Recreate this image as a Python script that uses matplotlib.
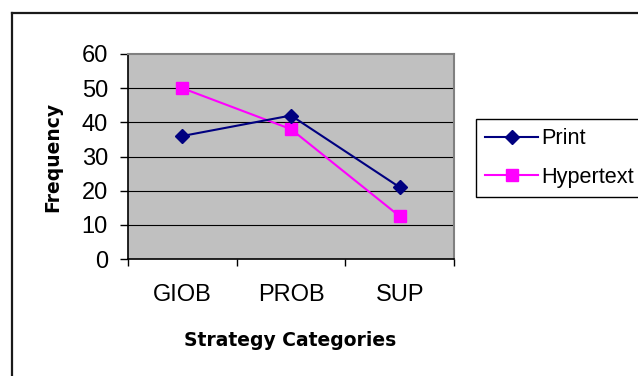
import matplotlib
matplotlib.use("Agg")
import matplotlib.pyplot as plt
from matplotlib.lines import Line2D
import numpy as np

# Data
categories = ["GIOB", "PROB", "SUP"]
print_freq = [36, 42, 21]
hypertext_freq = [50, 38, 12.5]
y_ticks = [0, 10, 20, 30, 40, 50, 60]

W, H = 638, 376
DPI = 100
plt.rcParams["font.family"] = ["Liberation Sans", "DejaVu Sans"]

fig = plt.figure(figsize=(W / DPI, H / DPI), dpi=DPI)
fig.patch.set_facecolor("white")


def fx(px):
    return px / W


def fy(py):
    return 1 - py / H


# Outer chart frame (left and top edges)
fig.add_artist(Line2D([fx(12), fx(12)], [fy(12.5), fy(376)], color="#1a1a1a", lw=1.6,
                      transform=fig.transFigure))
fig.add_artist(Line2D([fx(12), fx(638)], [fy(12.5), fy(12.5)], color="#1a1a1a", lw=1.6,
                      transform=fig.transFigure))

# Plot area
left, right, top, bottom = 128, 454, 54, 259
ax = fig.add_axes([fx(left), fy(bottom), fx(right - left), (bottom - top) / H])
ax.set_facecolor("#C0C0C0")

x = np.arange(len(categories))
ax.plot(x, print_freq, color="#000080", lw=1.5, marker="D", ms=6.8,
        markerfacecolor="#000080", markeredgecolor="#000080", label="Print", zorder=4)
ax.plot(x, hypertext_freq, color="#FF00FF", lw=1.5, marker="s", ms=8,
        markerfacecolor="#FF00FF", markeredgecolor="#FF00FF", label="Hypertext", zorder=3)

ax.set_xlim(-0.5, len(categories) - 0.5)
ax.set_ylim(0, 60)
ax.set_yticks(y_ticks)
ax.set_yticklabels([str(v) for v in y_ticks])
for v in y_ticks[1:-1]:
    ax.axhline(v, color="#000000", lw=0.8, zorder=1)

# Category boundaries carry the tick marks, labels sit at category centres
ax.set_xticks(np.arange(-0.5, len(categories)), minor=False)
ax.set_xticklabels([""] * (len(categories) + 1))
ax.set_xticks(x, minor=True)
ax.set_xticklabels(categories, minor=True)
ax.tick_params(axis="x", which="major", length=5, width=1, color="black", direction="out")
ax.tick_params(axis="x", which="minor", length=0, pad=18, labelsize=17)
ax.tick_params(axis="y", length=5.5, width=1, color="black", direction="out", pad=9,
               labelsize=17)

for side in ("left", "bottom"):
    ax.spines[side].set_color("black")
    ax.spines[side].set_linewidth(1.2)
for side in ("right", "top"):
    ax.spines[side].set_color("#808080")
    ax.spines[side].set_linewidth(1.5)

# Axis titles
fig.text(fx(290), fy(341), "Strategy Categories", ha="center", va="center",
         fontsize=13.5, fontweight="bold", family=["DejaVu Sans"])
fig.text(fx(53), fy(157), "Frequency", ha="center", va="center", rotation=90,
         fontsize=13.5, fontweight="bold", family=["DejaVu Sans"])

# Legend
fs = 15.6
fs_px = fs * DPI / 72
leg = fig.legend(loc="upper left", bbox_to_anchor=(fx(476), fy(119)), borderaxespad=0,
                 fontsize=fs, frameon=True, fancybox=False, shadow=False,
                 handlelength=53 / fs_px, handletextpad=3 / fs_px, borderpad=0.43,
                 labelspacing=0.8, edgecolor="black", facecolor="white", framealpha=1)
leg.get_frame().set_linewidth(1.0)

fig.savefig("out.png", dpi=DPI)
